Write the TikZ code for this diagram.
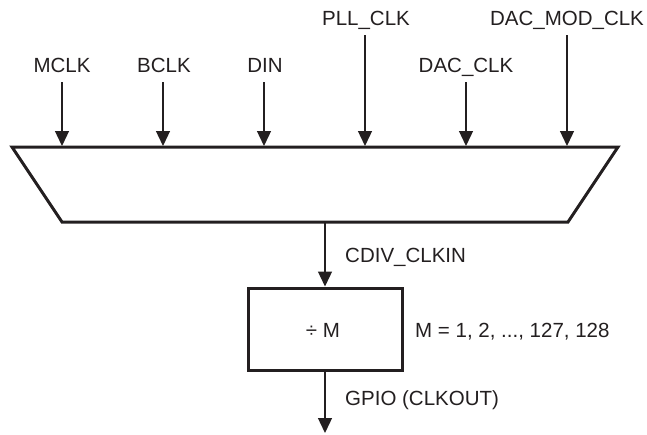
\documentclass[tikz,border=0pt]{standalone}
\usepackage{fontspec}
\setmainfont{Liberation Sans}
\usetikzlibrary{arrows.meta}
\definecolor{ink}{HTML}{231F20}
\tikzset{
  lbl/.style={inner sep=0pt, text height=15pt, text depth=0pt, font=\fontsize{20.5}{24}\selectfont, text=ink},
  sig/.style={draw=ink, line width=1.3pt, -{Triangle[width=14pt,length=15pt]}},
  heavy/.style={draw=ink, line width=3pt, line join=miter},
}
\begin{document}
\begin{tikzpicture}[x=1pt,y=-1pt]
\useasboundingbox (0,0) rectangle (647,434);
% trapezoid (mux)
\coordinate (tl) at (12,147);
\coordinate (tr) at (618,147);
\coordinate (br) at (568,222);
\coordinate (bl) at (62,222);
\draw[heavy] (tl) -- (tr) -- (br) -- (bl) -- cycle;
% input labels
\node[lbl] (mclk) at (62,65) {MCLK};
\node[lbl] (bclk) at (164,65) {BCLK};
\node[lbl] (din) at (265,65) {DIN};
\node[lbl] (pll) at (366,18) {PLL\_CLK};
\node[lbl] (dac) at (466,65) {DAC\_CLK};
\node[lbl] (dacmod) at (567,18) {DAC\_MOD\_CLK};
% input entry points
\coordinate (i1) at (62,146);
\coordinate (i2) at (163,146);
\coordinate (i3) at (264,146);
\coordinate (i4) at (365,146);
\coordinate (i5) at (466,146);
\coordinate (i6) at (567,146);
\draw[sig, shorten <=9.5pt] (mclk.south) -- (i1);
\draw[sig, shorten <=9.5pt] (bclk.south -| i2) -- (i2);
\draw[sig, shorten <=9.5pt] (din.south -| i3) -- (i3);
\draw[sig, shorten <=9.5pt] (pll.south -| i4) -- (i4);
\draw[sig, shorten <=9.5pt] (dac.south -| i5) -- (i5);
\draw[sig, shorten <=9.5pt] (dacmod.south -| i6) -- (i6);
% divider
\coordinate (mo) at (325,222);
\node[heavy, draw, rectangle, minimum width=154pt, minimum height=82pt, inner sep=0pt] (div) at (325,329) {};
\node[lbl] (divt) at (323,330) {÷ M};
\draw[sig] (mo) -- (div.north);
\node[lbl, anchor=west] (cdiv) at (345,255) {CDIV\_CLKIN};
\node[lbl, anchor=west] (mrange) at (415,330) {M = 1, 2, ..., 127, 128};
\coordinate (out) at (325,433);
\draw[sig] (div.south) -- (out);
\node[lbl, anchor=west] (gpio) at (345,398) {GPIO (CLKOUT)};
\end{tikzpicture}
\end{document}
